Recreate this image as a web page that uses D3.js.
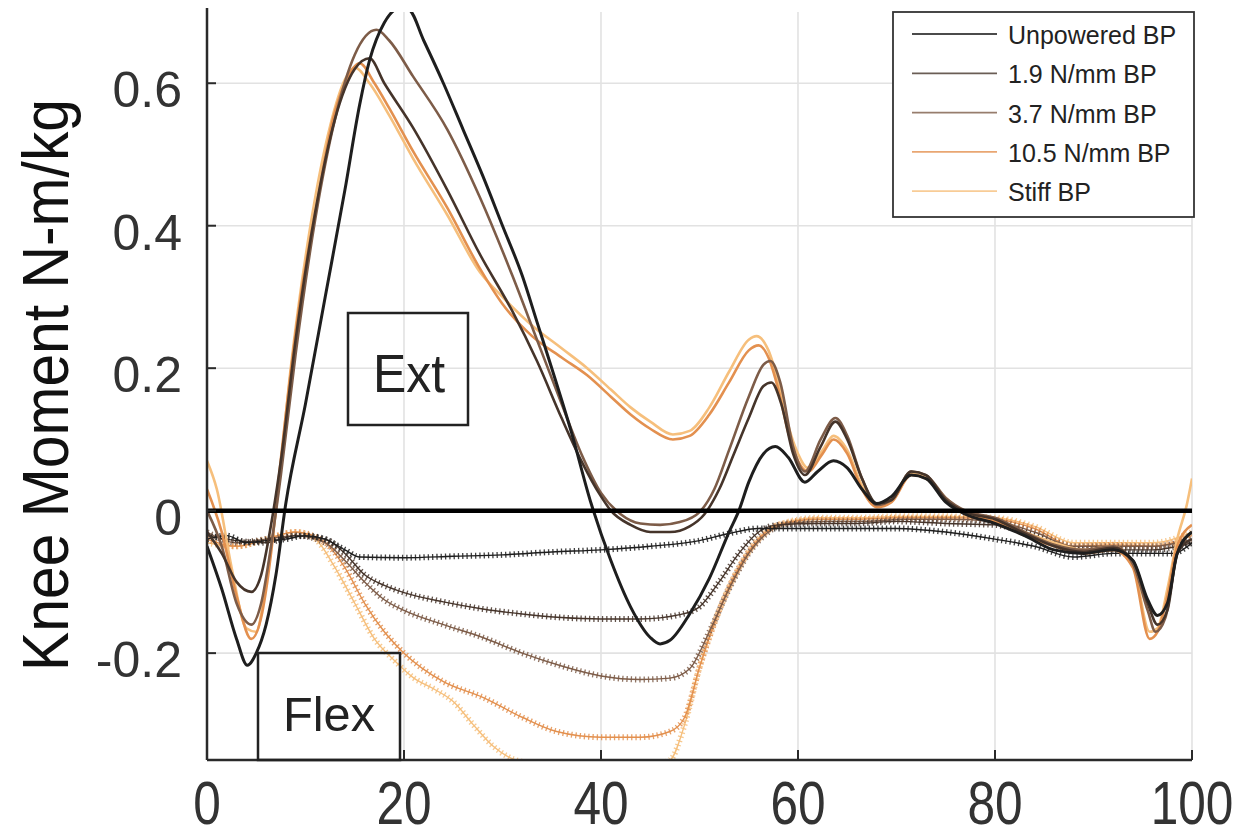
<!DOCTYPE html>
<html>
<head>
<meta charset="utf-8">
<script src="https://cdn.jsdelivr.net/npm/d3@7"></script>
<style>
  body { margin: 0; background: #ffffff; }
  svg { display: block; font-family: "Liberation Sans", Arial, sans-serif; }
</style>
</head>
<body>
<div class="viewport"></div>
<script>
// series names, in legend order
var seriesNames = ["Unpowered BP", "1.9 N/mm BP", "3.7 N/mm BP", "10.5 N/mm BP", "Stiff BP"];
var seriesColors = ["#1e1e1e", "#45342a", "#7d5c48", "#e3904f", "#f6bf7c"];

var xTicks = [0, 20, 40, 60, 80, 100];
var yTicks = [-0.2, 0, 0.2, 0.4, 0.6];
var yTickLabels = ["-0.2", "0", "0.2", "0.4", "0.6"];

// knee moment (solid lines), [% gait, N-m/kg]
var kneeUnpowered = [[0,-0.05],[1.5,-0.11],[3,-0.18],[4.1,-0.217],[5,-0.2],[6,-0.16],[7,-0.09],[8,0.01],[10,0.15],[12,0.3],[14,0.45],[15.5,0.57],[16.5,0.632],[18,0.685],[19.5,0.705],[20.5,0.703],[22,0.66],[24,0.6],[26,0.535],[28,0.47],[30,0.4],[32,0.33],[33.5,0.265],[35,0.2],[37,0.11],[39,0.01],[41,-0.07],[43,-0.135],[45,-0.178],[46,-0.187],[47,-0.182],[49,-0.145],[51,-0.095],[53,-0.03],[54,0.0],[55,0.04],[56.5,0.08],[57.7,0.09],[59,0.075],[60.7,0.04],[62,0.055],[63.6,0.07],[65,0.06],[66.5,0.03],[68,0.01],[69.5,0.02],[71.5,0.05],[73,0.045],[75,0.012],[77,-0.005],[80,-0.018],[83,-0.035],[86,-0.055],[89,-0.06],[92,-0.055],[94,-0.07],[95.5,-0.125],[96.5,-0.147],[97.5,-0.13],[98.5,-0.06],[100,-0.03]];
var knee19 = [[0,-0.03],[1.5,-0.06],[3,-0.1],[4.5,-0.114],[5.5,-0.09],[6.5,-0.02],[7.5,0.07],[9,0.24],[11,0.42],[13,0.55],[15,0.62],[16.5,0.635],[18,0.6],[20.9,0.538],[24.4,0.45],[27.7,0.36],[31,0.28],[33.5,0.21],[36,0.13],[38,0.07],[40,0.02],[41,0.0],[43,-0.02],[45,-0.03],[47,-0.03],[49,-0.022],[50.5,-0.005],[52,0.03],[53.5,0.08],[55,0.13],[56.5,0.175],[57.3,0.18],[58.3,0.15],[59.5,0.08],[60.7,0.05],[62.3,0.09],[63.8,0.125],[65,0.1],[66.5,0.045],[68,0.01],[69.5,0.015],[71.5,0.055],[73,0.05],[75,0.015],[77,-0.002],[80,-0.012],[83,-0.032],[86,-0.05],[89,-0.058],[92,-0.052],[94,-0.07],[95.5,-0.13],[96.5,-0.16],[97.5,-0.14],[98.5,-0.06],[100,-0.04]];
var knee37 = [[0,0.0],[1.5,-0.05],[3,-0.13],[4.5,-0.16],[5.5,-0.13],[6.5,-0.05],[7.5,0.05],[9,0.22],[11,0.41],[13,0.55],[15,0.64],[17.2,0.675],[18.5,0.66],[20.9,0.61],[24.4,0.535],[27.7,0.44],[31,0.33],[33.5,0.24],[36,0.15],[38,0.08],[40,0.025],[42,-0.005],[44,-0.018],[46,-0.02],[48,-0.016],[50,-0.002],[51.5,0.03],[53,0.085],[55,0.16],[56.5,0.205],[57.2,0.21],[58.2,0.18],[59.5,0.09],[60.7,0.055],[62.3,0.1],[63.8,0.13],[65,0.105],[66.5,0.045],[68,0.008],[69.5,0.015],[71.5,0.055],[73,0.05],[75,0.018],[77,0],[80,-0.01],[83,-0.03],[86,-0.048],[89,-0.055],[92,-0.05],[94,-0.075],[95.5,-0.14],[96.3,-0.17],[97.3,-0.15],[98.5,-0.06],[100,-0.03]];
var knee105 = [[0,0.03],[1.5,-0.03],[3,-0.12],[4.5,-0.18],[5.5,-0.15],[6.5,-0.06],[7.4,0.06],[9.4,0.29],[11.2,0.435],[12.8,0.55],[14,0.6],[15.5,0.628],[17,0.6],[18.5,0.565],[20.9,0.505],[24.4,0.425],[27.7,0.34],[30,0.29],[33,0.245],[36,0.215],[38.6,0.19],[41,0.16],[43,0.135],[45,0.115],[47.3,0.1],[49,0.105],[51,0.135],[53,0.18],[55,0.225],[56,0.232],[57,0.215],[58,0.17],[59,0.11],[60,0.07],[61,0.055],[62.5,0.08],[63.6,0.1],[65,0.08],[66.5,0.03],[68,0.005],[69.5,0.012],[71.5,0.05],[73,0.045],[75,0.015],[77,-0.005],[80,-0.015],[83,-0.035],[86,-0.05],[89,-0.06],[92,-0.055],[94,-0.08],[95.7,-0.18],[96.5,-0.17],[97.5,-0.12],[98.5,-0.05],[100,-0.02]];
var kneeStiff = [[0,0.07],[1,0.03],[2.5,-0.08],[4,-0.165],[5,-0.17],[6,-0.1],[7,0.0],[8.5,0.2],[10.5,0.4],[12.5,0.54],[14,0.605],[15,0.622],[16.5,0.6],[18.5,0.555],[20.9,0.495],[24.4,0.415],[27.7,0.335],[30,0.3],[33,0.26],[36,0.228],[38.6,0.2],[41,0.17],[43,0.145],[45,0.125],[47.3,0.107],[49,0.112],[51,0.145],[53,0.195],[55,0.24],[55.8,0.245],[57,0.225],[58,0.18],[59,0.12],[60,0.08],[61,0.06],[62.5,0.085],[63.6,0.105],[65,0.085],[66.5,0.035],[68,0.008],[69.5,0.015],[71.5,0.052],[73,0.048],[75,0.018],[77,-0.002],[80,-0.012],[83,-0.03],[86,-0.045],[89,-0.055],[92,-0.05],[94,-0.075],[95.7,-0.17],[96.5,-0.165],[97.5,-0.11],[98.5,-0.04],[99.5,0.01],[100,0.045]];

// brace moment (marker lines), [% gait, N-m/kg]
var braceUnpowered = [[0,-0.04],[2,-0.035],[4,-0.045],[6,-0.042],[8,-0.04],[10,-0.035],[12,-0.04],[14,-0.055],[15.5,-0.065],[20,-0.066],[25,-0.064],[30,-0.062],[35,-0.058],[40,-0.055],[45,-0.05],[50,-0.042],[53,-0.032],[56,-0.025],[60,-0.025],[65,-0.025],[70,-0.025],[75,-0.03],[80,-0.04],[84,-0.05],[88,-0.065],[92,-0.06],[96,-0.06],[98,-0.06],[100,-0.045]];
var brace19 = [[0,-0.035],[3,-0.042],[6,-0.045],[9,-0.035],[12,-0.04],[14,-0.06],[16,-0.09],[18,-0.105],[20,-0.115],[24,-0.128],[28,-0.138],[32,-0.145],[36,-0.15],[40,-0.152],[44,-0.152],[48,-0.146],[50,-0.135],[52,-0.1],[54,-0.06],[56,-0.03],[58,-0.02],[62,-0.018],[66,-0.018],[70,-0.015],[75,-0.018],[80,-0.02],[84,-0.035],[88,-0.055],[92,-0.055],[96,-0.055],[100,-0.045]];
var brace37 = [[0,-0.03],[3,-0.045],[6,-0.04],[9,-0.035],[12,-0.045],[14,-0.07],[16,-0.1],[18,-0.125],[20,-0.14],[24,-0.16],[28,-0.178],[32,-0.2],[36,-0.218],[40,-0.232],[44,-0.237],[47,-0.235],[49,-0.222],[51,-0.17],[53,-0.11],[55,-0.06],[57,-0.03],[59,-0.018],[63,-0.015],[67,-0.015],[71,-0.012],[75,-0.012],[80,-0.015],[84,-0.03],[88,-0.05],[92,-0.05],[96,-0.05],[100,-0.04]];
var brace105 = [[0,-0.04],[3,-0.05],[6,-0.04],[9,-0.03],[12,-0.045],[14,-0.08],[16,-0.13],[18,-0.17],[20,-0.2],[24,-0.24],[28,-0.262],[32,-0.29],[35.5,-0.31],[40,-0.318],[44,-0.318],[47,-0.31],[48.5,-0.29],[50,-0.22],[52,-0.14],[54,-0.08],[56,-0.04],[58,-0.02],[62,-0.012],[66,-0.012],[70,-0.01],[75,-0.01],[80,-0.012],[84,-0.025],[88,-0.05],[92,-0.048],[96,-0.05],[100,-0.035]];
var braceStiff = [[0,-0.045],[3,-0.05],[6,-0.04],[9,-0.03],[11,-0.04],[13,-0.08],[15,-0.13],[17,-0.18],[19,-0.21],[21,-0.235],[23,-0.25],[25,-0.268],[27,-0.3],[29,-0.33],[30.5,-0.345],[33,-0.355],[38,-0.36],[44,-0.36],[47,-0.35],[48.5,-0.3],[50,-0.22],[52,-0.14],[54,-0.08],[56,-0.04],[58,-0.02],[62,-0.01],[66,-0.01],[70,-0.008],[75,-0.008],[80,-0.01],[84,-0.022],[88,-0.045],[92,-0.045],[96,-0.045],[100,-0.03]];

var kneeSeries = [kneeUnpowered, knee19, knee37, knee105, kneeStiff];
var braceSeries = [braceUnpowered, brace19, brace37, brace105, braceStiff];

var width = 1233, height = 838;

var svg = d3.select(".viewport").append("svg")
    .attr("width", width)
    .attr("height", height);

svg.append("rect")
    .attr("width", width)
    .attr("height", height)
    .attr("fill", "#ffffff");

var x = d3.scaleLinear().domain([0, 100]).range([207, 1192]);
var y = d3.scaleLinear().domain([-0.35, 0.7]).range([760, 12]);

var defs = svg.append("defs");
defs.append("clipPath")
    .attr("id", "plotClip")
  .append("rect")
    .attr("x", x(0))
    .attr("y", y(0.7))
    .attr("width", x(100) - x(0))
    .attr("height", y(-0.35) - y(0.7));

// grid
var grid = svg.append("g").attr("class", "grid");
grid.selectAll(".vgrid")
    .data(xTicks.filter(function(d) { return d > 0; }))
    .enter().append("line")
    .attr("x1", function(d) { return x(d); })
    .attr("x2", function(d) { return x(d); })
    .attr("y1", y(0.7))
    .attr("y2", y(-0.35))
    .attr("stroke", "#e2e2e2")
    .attr("stroke-width", 1.6);
grid.selectAll(".hgrid")
    .data(yTicks)
    .enter().append("line")
    .attr("x1", x(0))
    .attr("x2", x(100))
    .attr("y1", function(d) { return y(d); })
    .attr("y2", function(d) { return y(d); })
    .attr("stroke", "#e2e2e2")
    .attr("stroke-width", 1.6);

var line = d3.line()
    .x(function(d) { return x(d[0]); })
    .y(function(d) { return y(d[1]); })
    .curve(d3.curveMonotoneX);

var plot = svg.append("g").attr("clip-path", "url(#plotClip)");

// marker lines first (stiff at the bottom), solid lines over them
for (var i = braceSeries.length - 1; i >= 0; i--) {
    plot.append("path")
        .datum(braceSeries[i])
        .attr("d", line)
        .attr("fill", "none")
        .attr("stroke", seriesColors[i])
        .attr("stroke-width", 1.4);
    plot.append("path")
        .datum(braceSeries[i])
        .attr("d", line)
        .attr("fill", "none")
        .attr("stroke", seriesColors[i])
        .attr("stroke-width", 6)
        .attr("stroke-dasharray", "1.3 3")
        .attr("opacity", 0.85);
}

for (var j = kneeSeries.length - 1; j >= 0; j--) {
    plot.append("path")
        .datum(kneeSeries[j])
        .attr("d", line)
        .attr("fill", "none")
        .attr("stroke", seriesColors[j])
        .attr("stroke-width", j === 0 ? 3 : 2.6)
        .attr("stroke-linejoin", "round");
}

// zero line
svg.append("line")
    .attr("x1", x(0))
    .attr("x2", x(100))
    .attr("y1", y(0))
    .attr("y2", y(0))
    .attr("stroke", "#000000")
    .attr("stroke-width", 4.5);

// axes lines and inward ticks
var axisColor = "#2a2a2a";
svg.append("line")
    .attr("x1", x(0)).attr("x2", x(0))
    .attr("y1", 8).attr("y2", y(-0.35))
    .attr("stroke", axisColor).attr("stroke-width", 2.5);
svg.append("line")
    .attr("x1", x(0)).attr("x2", x(100))
    .attr("y1", y(-0.35)).attr("y2", y(-0.35))
    .attr("stroke", axisColor).attr("stroke-width", 2.5);

svg.selectAll(".ytick")
    .data(yTicks)
    .enter().append("line")
    .attr("x1", x(0)).attr("x2", x(0) + 9)
    .attr("y1", function(d) { return y(d); })
    .attr("y2", function(d) { return y(d); })
    .attr("stroke", axisColor).attr("stroke-width", 2);
svg.selectAll(".xtick")
    .data(xTicks)
    .enter().append("line")
    .attr("x1", function(d) { return x(d); })
    .attr("x2", function(d) { return x(d); })
    .attr("y1", y(-0.35)).attr("y2", y(-0.35) - 10)
    .attr("stroke", axisColor).attr("stroke-width", 2);

// tick labels
svg.selectAll(".ylab")
    .data(yTicks)
    .enter().append("text")
    .attr("x", 182)
    .attr("y", function(d) { return y(d) + 24; })
    .attr("text-anchor", "end")
    .attr("font-size", 50)
    .attr("fill", "#333333")
    .text(function(d, i) { return yTickLabels[i]; });

// x labels are tall and narrow in the original, squeeze them sideways
svg.selectAll(".xlab")
    .data(xTicks)
    .enter().append("text")
    .attr("transform", function(d) { return "translate(" + x(d) + ",824) scale(0.8,1)"; })
    .attr("text-anchor", "middle")
    .attr("font-size", 62)
    .attr("fill", "#333333")
    .text(function(d) { return d; });

// y axis title
svg.append("text")
    .attr("transform", "translate(68,385) rotate(-90)")
    .attr("text-anchor", "middle")
    .attr("font-size", 64)
    .attr("textLength", 572)
    .attr("lengthAdjust", "spacingAndGlyphs")
    .attr("fill", "#111111")
    .text("Knee Moment N-m/kg");

// Ext / Flex annotation boxes
svg.append("rect")
    .attr("x", 348).attr("y", 313)
    .attr("width", 120).attr("height", 112)
    .attr("fill", "none")
    .attr("stroke", "#222222").attr("stroke-width", 2.5);
svg.append("text")
    .attr("x", 409).attr("y", 392)
    .attr("text-anchor", "middle")
    .attr("font-size", 54)
    .attr("textLength", 72)
    .attr("lengthAdjust", "spacingAndGlyphs")
    .attr("fill", "#222222")
    .text("Ext");

svg.append("rect")
    .attr("x", 258).attr("y", 653)
    .attr("width", 142).attr("height", y(-0.35) - 653)
    .attr("fill", "none")
    .attr("stroke", "#222222").attr("stroke-width", 2.5);
svg.append("text")
    .attr("x", 329).attr("y", 731)
    .attr("text-anchor", "middle")
    .attr("font-size", 48)
    .attr("textLength", 92)
    .attr("lengthAdjust", "spacingAndGlyphs")
    .attr("fill", "#222222")
    .text("Flex");

// legend
var legend = svg.append("g").attr("class", "legend");
legend.append("rect")
    .attr("x", 893).attr("y", 12)
    .attr("width", 301).attr("height", 205)
    .attr("fill", "#ffffff")
    .attr("stroke", "#333333").attr("stroke-width", 1.8);

var rows = legend.selectAll(".row")
    .data(seriesNames)
    .enter().append("g")
    .attr("transform", function(d, i) { return "translate(0," + (34 + i * 39.3) + ")"; });
rows.append("line")
    .attr("x1", 912).attr("x2", 997)
    .attr("y1", 0).attr("y2", 0)
    .attr("stroke", function(d, i) { return seriesColors[i]; })
    .attr("stroke-opacity", 0.8)
    .attr("stroke-width", 1.8);
rows.append("text")
    .attr("x", 1008).attr("y", 10)
    .attr("font-size", 25)
    .attr("fill", "#222222")
    .text(function(d) { return d; });
</script>
</body>
</html>
